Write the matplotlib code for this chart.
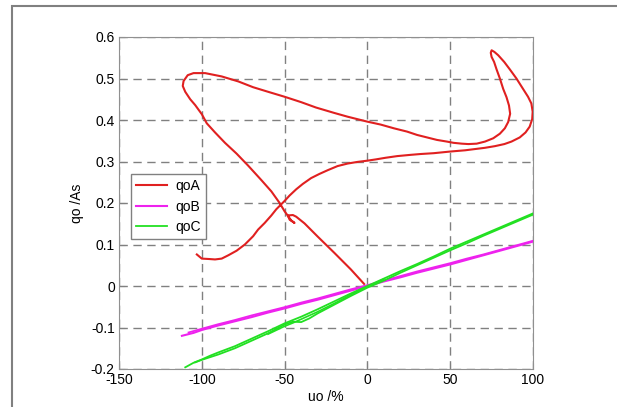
import matplotlib.pyplot as plt
from matplotlib.patches import Rectangle

plt.rcParams['font.family'] = ['Liberation Sans', 'DejaVu Sans']

# qoA: hysteresis loop (starts at origin)
qoA_x = [-2, -10, -20, -30, -38, -43, -45, -48, -47, -44, -46, -50, -53,
         -58, -64, -72, -79, -86, -92, -97, -100, -104, -107, -110, -111.5,
         -111, -108.5, -105, -98, -88, -78, -69, -60, -50, -40, -31, -20,
         -12, 0, 8, 16, 24, 30, 37, 42, 48, 52, 57, 61, 66, 71, 76, 80, 83,
         85, 86.2, 85.5, 84, 82, 80, 78, 76.5, 75, 74.5, 75, 76.7, 79, 82.6,
         86, 90, 93.5, 97, 99, 99.8, 99.5, 98, 95.5, 92, 87, 82.7, 77, 71,
         65, 59, 50, 40, 32, 26, 18, 11, 5, 0, -6, -12, -18, -24, -29, -34,
         -39, -43, -47, -50, -53, -55, -58, -62, -66, -69, -74, -79, -84,
         -88, -92, -95.5, -100, -103]
qoA_y = [0.005, 0.040, 0.080, 0.119, 0.151, 0.167, 0.171, 0.170, 0.160,
         0.152, 0.158, 0.180, 0.200, 0.228, 0.255, 0.290, 0.319, 0.345,
         0.370, 0.392, 0.414, 0.436, 0.450, 0.468, 0.482, 0.494, 0.508,
         0.513, 0.513, 0.505, 0.493, 0.479, 0.468, 0.456, 0.443, 0.430,
         0.417, 0.408, 0.396, 0.389, 0.380, 0.372, 0.364, 0.357, 0.352,
         0.348, 0.345, 0.343, 0.342, 0.343, 0.348, 0.356, 0.367, 0.380,
         0.395, 0.415, 0.435, 0.455, 0.475, 0.500, 0.522, 0.540, 0.552,
         0.562, 0.568, 0.564, 0.556, 0.540, 0.522, 0.500, 0.478, 0.456,
         0.440, 0.420, 0.402, 0.384, 0.370, 0.358, 0.348, 0.342, 0.337,
         0.333, 0.330, 0.327, 0.324, 0.320, 0.318, 0.316, 0.313, 0.309,
         0.305, 0.302, 0.299, 0.295, 0.289, 0.279, 0.270, 0.260, 0.246,
         0.233, 0.218, 0.205, 0.193, 0.185, 0.170, 0.152, 0.136, 0.120,
         0.100, 0.085, 0.074, 0.066, 0.064, 0.065, 0.066, 0.076]

# qoB: two nearly coincident branches
qoB_up_x = [-112, -105, -100, -90, -80, -70, -60, -50, -40, -30, -20, -10,
            0, 10, 20, 30, 40, 50, 60, 70, 80, 90, 100]
qoB_up_y = [-0.120, -0.113, -0.106, -0.095, -0.085, -0.075, -0.064, -0.054,
            -0.043, -0.033, -0.022, -0.011, 0.000, 0.011, 0.021, 0.032,
            0.042, 0.052, 0.063, 0.074, 0.085, 0.096, 0.107]
qoB_dn_x = [100, 90, 80, 70, 60, 50, 40, 30, 20, 10, 0, -10, -20, -30,
            -40, -50, -60, -70, -80, -90, -100, -108]
qoB_dn_y = [0.109, 0.098, 0.087, 0.076, 0.066, 0.055, 0.045, 0.035, 0.024,
            0.013, 0.002, -0.008, -0.019, -0.030, -0.040, -0.051, -0.061,
            -0.071, -0.082, -0.092, -0.103, -0.112]

# qoC: several strands with a small kink around -45
qoC_1_x = [-110, -105, -100, -95, -90, -80, -70, -60, -50, -45, -40, -30,
           -20, -10, 0, 10, 20, 30, 40, 50, 60, 70, 80, 90, 100]
qoC_1_y = [-0.196, -0.185, -0.177, -0.168, -0.160, -0.145, -0.127, -0.109,
           -0.090, -0.082, -0.074, -0.056, -0.037, -0.018, 0.000, 0.018,
           0.036, 0.053, 0.071, 0.090, 0.107, 0.124, 0.141, 0.158, 0.175]
qoC_2_x = [100, 90, 80, 70, 60, 50, 40, 30, 20, 10, 0, -10, -20, -30, -35,
           -40, -45, -50, -60, -70, -80, -90, -100, -104]
qoC_2_y = [0.172, 0.155, 0.138, 0.121, 0.103, 0.086, 0.068, 0.050, 0.032,
           0.013, -0.004, -0.024, -0.045, -0.066, -0.078, -0.087, -0.086,
           -0.093, -0.114, -0.132, -0.150, -0.165, -0.178, -0.184]
qoC_3_x = [-60, -50, -45, -40, -30, -20, -10, 0, 10]
qoC_3_y = [-0.116, -0.097, -0.089, -0.080, -0.062, -0.042, -0.021, -0.002,
           0.017]

xticks = [-150, -100, -50, 0, 50, 100]
yticks = [-0.2, -0.1, 0, 0.1, 0.2, 0.3, 0.4, 0.5, 0.6]

red = '#e02020'
magenta = '#ee22ee'
green = '#22e022'

fig = plt.figure(figsize=(6.17, 4.07), dpi=100)
fig.patches.append(Rectangle((12 / 617, -0.1), 1.2, (407 - 6) / 407 + 0.1,
                             transform=fig.transFigure, fill=False,
                             edgecolor='#808080', linewidth=1.5))
ax = fig.add_axes([119 / 617, 1 - 369 / 407, 414 / 617, 332 / 407])

ax.plot(qoA_x, qoA_y, color=red, lw=1.5, label='qoA', zorder=3)
ax.plot(qoB_up_x, qoB_up_y, color=magenta, lw=1.5, label='qoB', zorder=3)
ax.plot(qoB_dn_x, qoB_dn_y, color=magenta, lw=1.3, zorder=3)
ax.plot(qoC_1_x, qoC_1_y, color=green, lw=1.3, label='qoC', zorder=3)
ax.plot(qoC_2_x, qoC_2_y, color=green, lw=1.3, zorder=3)
ax.plot(qoC_3_x, qoC_3_y, color=green, lw=1.2, zorder=3)

ax.set_xlim(-150, 100)
ax.set_ylim(-0.2, 0.6)
ax.set_xticks(xticks)
ax.set_yticks(yticks)
ax.set_xticklabels([str(t) for t in xticks])
ax.set_yticklabels(['-0.2', '-0.1', '0', '0.1', '0.2', '0.3', '0.4', '0.5', '0.6'])
ax.grid(True, color='#808080', linestyle=(0, (6, 4)), linewidth=1.0)
ax.tick_params(direction='in', length=4, color='#808080', labelsize=10,
               pad=3)
for s in ax.spines.values():
    s.set_color('#909090')

ax.set_xlabel('uo /%', fontsize=10, labelpad=2)
ax.set_ylabel('qo /As', fontsize=10, labelpad=5)

leg = ax.legend(loc='upper left', bbox_to_anchor=(0.028, 0.588), fontsize=10,
                frameon=True, fancybox=False, edgecolor='#808080',
                framealpha=1, borderpad=0.4, labelspacing=0.45,
                handlelength=2.2, handletextpad=0.6, borderaxespad=0)
leg.get_frame().set_linewidth(1.0)

plt.savefig('out.png', dpi=100)
